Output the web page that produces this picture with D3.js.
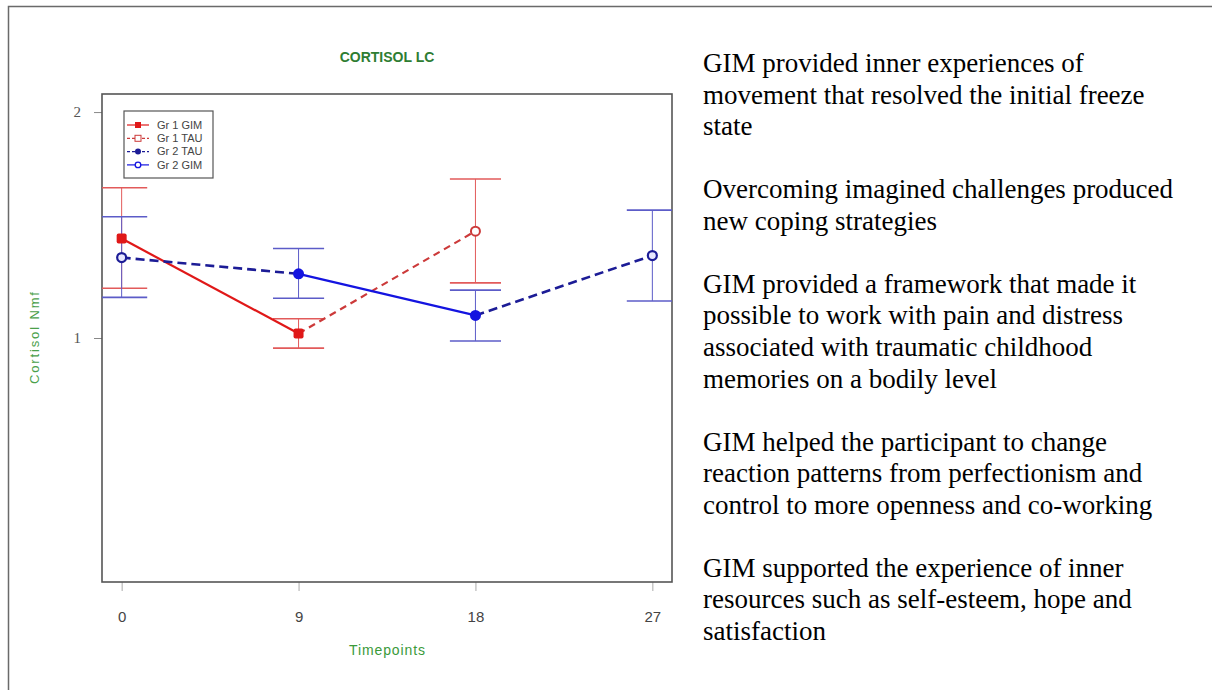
<!DOCTYPE html>
<html>
<head>
<meta charset="utf-8">
<script src="https://cdn.jsdelivr.net/npm/d3@7"></script>
<style>
  html, body { margin: 0; padding: 0; background: #fff; }
  svg { display: block; }
</style>
</head>
<body>
<script>
// ---------- DATA ----------
const xTickValues = [0, 9, 18, 27];
const yTickValues = [1, 2];

// Group 1 GIM (red, solid)
const gr1GimTime = [0, 9];
const gr1GimMean = [1.44, 1.02];
const gr1GimLow  = [1.22, 0.955];
const gr1GimHigh = [1.665, 1.085];

// Group 1 TAU (red, dashed)
const gr1TauTime = [9, 18];
const gr1TauMean = [1.02, 1.473];
const gr1TauLow  = [null, 1.244];
const gr1TauHigh = [null, 1.704];

// Group 2 (blue) values at each timepoint
const gr2Time = [0, 9, 18, 27];
const gr2Mean = [1.356, 1.284, 1.100, 1.365];
const gr2Low  = [1.180, 1.176, 0.987, 1.164];
const gr2High = [1.537, 1.396, 1.212, 1.566];
const gr2Segments = ["TAU", "GIM", "TAU"];           // between consecutive timepoints
const gr2Markers  = ["open", "filled", "filled", "open"];

const legendLabels = ["Gr 1 GIM", "Gr 1 TAU", "Gr 2 TAU", "Gr 2 GIM"];

const chartTitle = "CORTISOL LC";
const xLabel = "Timepoints";
const yLabel = "Cortisol Nmf";

const paragraphs = [
  ["GIM provided inner experiences of", "movement that resolved the initial freeze", "state"],
  ["Overcoming imagined challenges produced", "new coping strategies"],
  ["GIM provided a framework that made it", "possible to work with pain and distress", "associated with traumatic childhood", "memories on a bodily level"],
  ["GIM helped the participant to change", "reaction patterns from perfectionism and", "control to more openness and co-working"],
  ["GIM supported the experience of inner", "resources such as self-esteem, hope and", "satisfaction"]
];

// ---------- STYLE ----------
const W = 1212, H = 690;
const plot = { left: 102, right: 672, top: 94, bottom: 582 };
const RED = "#e01818", RED_D = "#cc3a3a", RED_E = "#e25a5a";
const BLUE = "#1414e0", BLUE_D = "#1c1c96", BLUE_E = "#5c5cc8";
const SANS = "Liberation Sans, Arial, sans-serif";

const svg = d3.select("body").append("svg").attr("width", W).attr("height", H);

// outer frame (top & left visible)
svg.append("path")
  .attr("d", `M8.5,${H} L8.5,6.5 L${W},6.5`)
  .attr("fill", "none").attr("stroke", "#6a6a6a").attr("stroke-width", 1.5);

const x = d3.scaleLinear().domain([-1, 28]).range([plot.left, plot.right]);
const y = d3.scaleLinear().domain([-0.08, 2.08]).range([plot.bottom, plot.top]);

// clip
svg.append("defs").append("clipPath").attr("id", "plotclip")
  .append("rect").attr("x", plot.left).attr("y", plot.top)
  .attr("width", plot.right - plot.left).attr("height", plot.bottom - plot.top);

// axes
const xAxis = svg.append("g").attr("transform", `translate(0,${plot.bottom})`)
  .call(d3.axisBottom(x).tickValues(xTickValues).tickSize(9).tickPadding(20).tickFormat(d3.format("d")));
xAxis.select(".domain").remove();
xAxis.selectAll(".tick line").attr("stroke", "#aaa");
xAxis.selectAll(".tick text").attr("font-family", SANS)
  .attr("font-size", 15).attr("fill", "#444");

const yAxis = svg.append("g").attr("transform", `translate(${plot.left},0)`)
  .call(d3.axisLeft(y).tickValues(yTickValues).tickSize(8).tickPadding(13).tickFormat(d3.format("d")));
yAxis.select(".domain").remove();
yAxis.selectAll(".tick line").attr("stroke", "#888");
yAxis.selectAll(".tick text").attr("font-family", "Liberation Serif, serif")
  .attr("font-size", 15).attr("fill", "#555");

// plot box
svg.append("rect").attr("x", plot.left).attr("y", plot.top)
  .attr("width", plot.right - plot.left).attr("height", plot.bottom - plot.top)
  .attr("fill", "none").attr("stroke", "#555").attr("stroke-width", 1.6);

const g = svg.append("g").attr("clip-path", "url(#plotclip)");
const capHalf = x(1.3) - x(0);

function errorBars(times, lows, highs, color) {
  times.forEach((t, i) => {
    if (lows[i] == null) return;
    g.append("line").attr("x1", x(t)).attr("x2", x(t)).attr("y1", y(lows[i])).attr("y2", y(highs[i]))
      .attr("stroke", color).attr("stroke-width", 1);
    [lows[i], highs[i]].forEach(v => {
      g.append("line").attr("x1", x(t) - capHalf).attr("x2", x(t) + capHalf)
        .attr("y1", y(v)).attr("y2", y(v)).attr("stroke", color).attr("stroke-width", 1.6);
    });
  });
}
errorBars(gr1GimTime, gr1GimLow, gr1GimHigh, RED_E);
errorBars(gr1TauTime, gr1TauLow, gr1TauHigh, RED_E);
errorBars(gr2Time, gr2Low, gr2High, BLUE_E);

const line = d3.line().x(d => x(d[0])).y(d => y(d[1]));

// red lines
g.append("path").datum(d3.zip(gr1GimTime, gr1GimMean)).attr("d", line)
  .attr("fill", "none").attr("stroke", RED).attr("stroke-width", 2.2);
g.append("path").datum(d3.zip(gr1TauTime, gr1TauMean)).attr("d", line)
  .attr("fill", "none").attr("stroke", RED_D).attr("stroke-width", 2.2).attr("stroke-dasharray", "7,5");

// blue segments
gr2Segments.forEach((s, i) => {
  const seg = [[gr2Time[i], gr2Mean[i]], [gr2Time[i + 1], gr2Mean[i + 1]]];
  g.append("path").datum(seg).attr("d", line).attr("fill", "none")
    .attr("stroke", s === "GIM" ? BLUE : BLUE_D)
    .attr("stroke-width", s === "GIM" ? 2.2 : 2.6)
    .attr("stroke-dasharray", s === "GIM" ? null : "9,5");
});

// markers
gr1GimTime.forEach((t, i) => {
  g.append("rect").attr("x", x(t) - 5).attr("y", y(gr1GimMean[i]) - 5).attr("width", 10).attr("height", 10)
    .attr("rx", 2).attr("fill", RED);
});
g.append("circle").attr("cx", x(gr1TauTime[1])).attr("cy", y(gr1TauMean[1])).attr("r", 4.5)
  .attr("fill", "#fff").attr("stroke", RED_D).attr("stroke-width", 2);
gr2Time.forEach((t, i) => {
  if (gr2Markers[i] === "filled") {
    g.append("circle").attr("cx", x(t)).attr("cy", y(gr2Mean[i])).attr("r", 5.5).attr("fill", BLUE);
  } else {
    g.append("circle").attr("cx", x(t)).attr("cy", y(gr2Mean[i])).attr("r", 4.5)
      .attr("fill", "#e8e8ff").attr("stroke", BLUE_D).attr("stroke-width", 2.2);
  }
});

// legend
const lg = svg.append("g");
lg.append("rect").attr("x", 124).attr("y", 111).attr("width", 89).attr("height", 67)
  .attr("fill", "#fff").attr("stroke", "#555").attr("stroke-width", 1.2);
const legendStyles = [
  { c: RED, dash: null, m: "sqfill" },
  { c: RED_D, dash: "3,2", m: "sqopen" },
  { c: BLUE_D, dash: "3,2", m: "cfill" },
  { c: BLUE, dash: null, m: "copen" }
];
legendLabels.forEach((lab, i) => {
  const yy = 125 + i * 13.3;
  const st = legendStyles[i];
  lg.append("line").attr("x1", 127).attr("x2", 149).attr("y1", yy).attr("y2", yy)
    .attr("stroke", st.c).attr("stroke-width", 1.2).attr("stroke-dasharray", st.dash);
  if (st.m === "sqfill") lg.append("rect").attr("x", 135).attr("y", yy - 3).attr("width", 6).attr("height", 6).attr("fill", st.c);
  if (st.m === "sqopen") lg.append("rect").attr("x", 135).attr("y", yy - 3).attr("width", 6).attr("height", 6).attr("fill", "#fff").attr("stroke", st.c);
  if (st.m === "cfill") lg.append("circle").attr("cx", 138).attr("cy", yy).attr("r", 3).attr("fill", st.c);
  if (st.m === "copen") lg.append("circle").attr("cx", 138).attr("cy", yy).attr("r", 2.8).attr("fill", "#fff").attr("stroke", st.c).attr("stroke-width", 1.3);
  lg.append("text").attr("x", 157).attr("y", yy).attr("dy", "0.35em")
    .attr("font-family", SANS).attr("font-size", 11)
    .attr("fill", "#444").text(lab);
});

// titles
const mid = (plot.left + plot.right) / 2;
svg.append("text").attr("x", mid).attr("y", 62).attr("text-anchor", "middle")
  .attr("font-family", SANS).attr("font-size", 14).attr("font-weight", "bold")
  .attr("fill", "#2e7d32").text(chartTitle);
svg.append("text").attr("x", mid).attr("y", 655).attr("text-anchor", "middle")
  .attr("font-family", SANS).attr("font-size", 14)
  .attr("textLength", 76).attr("lengthAdjust", "spacing")
  .attr("fill", "#3a9a3a").text(xLabel);
svg.append("text").attr("transform", `translate(39,${(plot.top + plot.bottom) / 2}) rotate(-90)`)
  .attr("text-anchor", "middle")
  .attr("font-family", SANS).attr("font-size", 13)
  .attr("textLength", 92).attr("lengthAdjust", "spacing")
  .attr("fill", "#4aa04a").text(yLabel);

// right side text
let lineIdx = 0;
const tg = svg.append("g");
paragraphs.forEach(p => {
  p.forEach(l => {
    tg.append("text").attr("x", 703).attr("y", 72 + lineIdx * 31.55)
      .attr("font-family", "Liberation Serif, 'Times New Roman', serif").attr("font-size", 27)
      .attr("fill", "#000").text(l);
    lineIdx++;
  });
  lineIdx++;
});
</script>
</body>
</html>
